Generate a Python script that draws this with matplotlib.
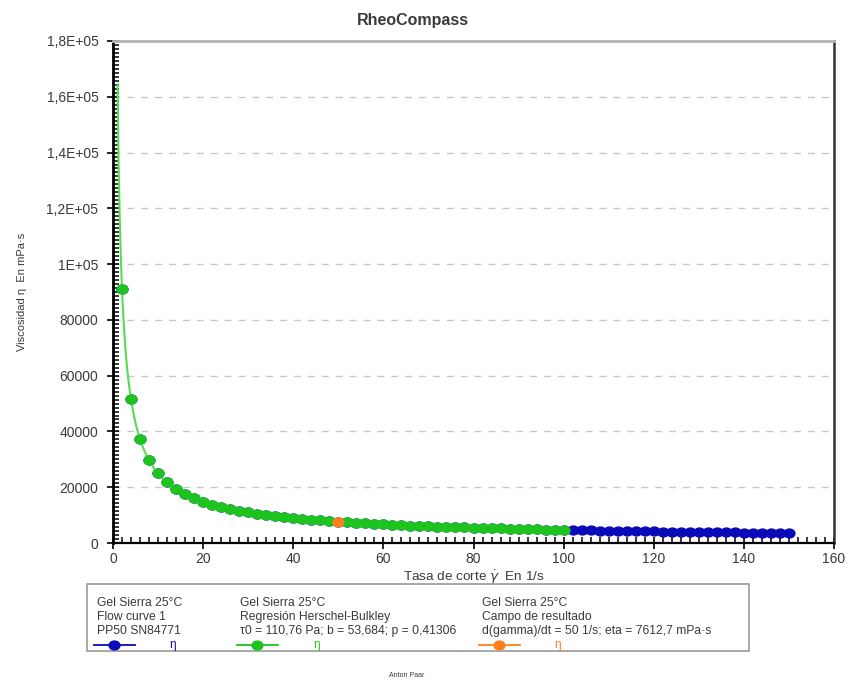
import numpy as np
import matplotlib
matplotlib.use("Agg")
import matplotlib.pyplot as plt
from matplotlib.ticker import MultipleLocator
from matplotlib.lines import Line2D
from matplotlib.patches import Rectangle
from matplotlib.path import Path
from matplotlib.transforms import Affine2D

plt.rcParams['font.family'] = ['Liberation Sans', 'DejaVu Sans']

# flow curve: shear rate (1/s) and measured viscosity (mPa·s)
shear_rate = list(range(2, 152, 2))
viscosity = [91100, 51500, 37200, 29700, 25000, 21700, 19300, 17500, 16000, 14800,
             13800, 12900, 12200, 11550, 11000, 10500, 10050, 9630, 9260, 8930,
             8620, 8340, 8080, 7840, 7610, 7410, 7220, 7030, 6860, 6700,
             6550, 6410, 6270, 6140, 6020, 5900, 5790, 5680, 5580, 5490,
             5390, 5300, 5220, 5140, 5060, 4980, 4910, 4840, 4770, 4700,
             4640, 4580, 4520, 4460, 4410, 4350, 4300, 4250, 4200, 4160,
             4110, 4060, 4020, 3980, 3940, 3900, 3860, 3820, 3780, 3740,
             3710, 3670, 3640, 3610, 3570]

# Herschel-Bulkley regression parameters
tau0 = 110.76    # Pa
b_hb = 53.684
p_hb = 0.41306
fit_range = (1, 100)

# result field
res_rate = 50
res_eta = 7612.7

yticks = [0, 20000, 40000, 60000, 80000, 100000, 120000, 140000, 160000, 180000]
ytick_labels = ['0', '20000', '40000', '60000', '80000', '1E+05',
                '1,2E+05', '1,4E+05', '1,6E+05', '1,8E+05']
xticks = [0, 20, 40, 60, 80, 100, 120, 140, 160]


def hb_eta(g):
    # viscosity in mPa·s from the HB model tau = tau0 + b*g^p
    return (tau0 + b_hb * g ** p_hb) / g * 1000


# slightly flattened dot, like the RheoCompass export
dot = Path.unit_circle().transformed(Affine2D().scale(1.0, 0.82))

fig = plt.figure(figsize=(8.54, 6.82), dpi=100)
ax = fig.add_axes([0.1323, 0.2038, 0.8443, 0.7361])

blue = '#0a0ab8'
green = '#1ec41e'
orange = '#ff7f1e'
txt = '#3a3a3a'
ms = 7.8

ax.plot(shear_rate, viscosity, ls='none', marker=dot, color=blue, ms=ms, mec=blue, zorder=3)

g_line = np.linspace(fit_range[0], fit_range[1], 400)
ax.plot(g_line, hb_eta(g_line), '-', color='#55dd55', lw=1.5, zorder=4)
g_pts = np.array([g for g in shear_rate if g <= fit_range[1]], dtype=float)
ax.plot(g_pts, hb_eta(g_pts), ls='none', marker=dot, color=green, ms=ms, mec=green, zorder=5)

ax.plot([res_rate], [res_eta], ls='none', marker=dot, color=orange, ms=ms, mec=orange, zorder=6)

ax.set_xlim(0, 160)
ax.set_ylim(0, 180000)
ax.set_xticks(xticks)
ax.set_xticklabels([str(v) for v in xticks])
ax.set_yticks(yticks)
ax.set_yticklabels(ytick_labels)
ax.xaxis.set_minor_locator(MultipleLocator(2))
ax.yaxis.set_minor_locator(MultipleLocator(20000 / 14))

ax.tick_params(axis='both', which='major', direction='inout', length=9, width=1.2,
               labelsize=10, labelcolor=txt, color='black')
ax.tick_params(axis='both', which='minor', direction='in', length=4, width=1.1,
               color='black')
ax.tick_params(axis='x', pad=2)
ax.tick_params(axis='y', pad=6)

for y in yticks[1:-1]:
    ax.axhline(y, color='#c8c8c8', lw=1, ls=(0, (5, 5)), zorder=1)

ax.spines['left'].set_linewidth(2)
ax.spines['bottom'].set_linewidth(1.6)
ax.spines['right'].set_linewidth(1.8)
ax.spines['right'].set_color('#333333')
ax.spines['top'].set_linewidth(2)
ax.spines['top'].set_color('#b4b4b4')

fig.text(0.4830, 0.9706, 'RheoCompass', fontsize=11.5, fontweight='bold', color=txt,
         ha='center', va='center')
ax.set_xlabel(r'Tasa de corte $\dot{\gamma}$  En 1/s', fontsize=9.7, color=txt, labelpad=2)
ax.set_ylabel('Viscosidad η  En mPa·s', fontsize=8, color=txt, labelpad=14)

# legend panel below the axes
fig.add_artist(Rectangle((0.1019, 0.0455), 0.7751, 0.0982, transform=fig.transFigure,
                         fill=False, ec='#9a9a9a', lw=1.2))

fit_text = 'τ0 = %s Pa; b = %s; p = %s' % (
    f'{tau0:.2f}'.replace('.', ','), f'{b_hb:.3f}'.replace('.', ','),
    f'{p_hb:.5f}'.replace('.', ','))
res_text = 'd(gamma)/dt = %d 1/s; eta = %s mPa·s' % (res_rate, f'{res_eta:.1f}'.replace('.', ','))

columns = [
    (0.1136, ['Gel Sierra 25°C', 'Flow curve 1', 'PP50 SN84771'], blue, 0.2022),
    (0.2810, ['Gel Sierra 25°C', 'Regresión Herschel-Bulkley', fit_text], green, 0.3712),
    (0.5644, ['Gel Sierra 25°C', 'Campo de resultado', res_text], orange, 0.6534),
]
line_y = [0.1158, 0.0953, 0.0748]
for x0, lines, col, eta_x in columns:
    for yy, s in zip(line_y, lines):
        fig.text(x0, yy, s, fontsize=8.7, color=txt, va='center', ha='left')
    fig.add_artist(Line2D([x0 - 0.004, x0 + 0.044], [0.0543, 0.0543], color=col, lw=1.3,
                          transform=fig.transFigure))
    fig.add_artist(Line2D([x0 + 0.020], [0.0543], color=col, marker=dot, ms=ms, lw=0,
                          transform=fig.transFigure))
    fig.text(eta_x, 0.0543, 'η', fontsize=8.5, color=col, va='center', ha='center')

fig.text(0.4766, 0.009, 'Anton Paar', fontsize=5, color=txt, ha='center', va='center')

fig.savefig('out.png', dpi=100)
